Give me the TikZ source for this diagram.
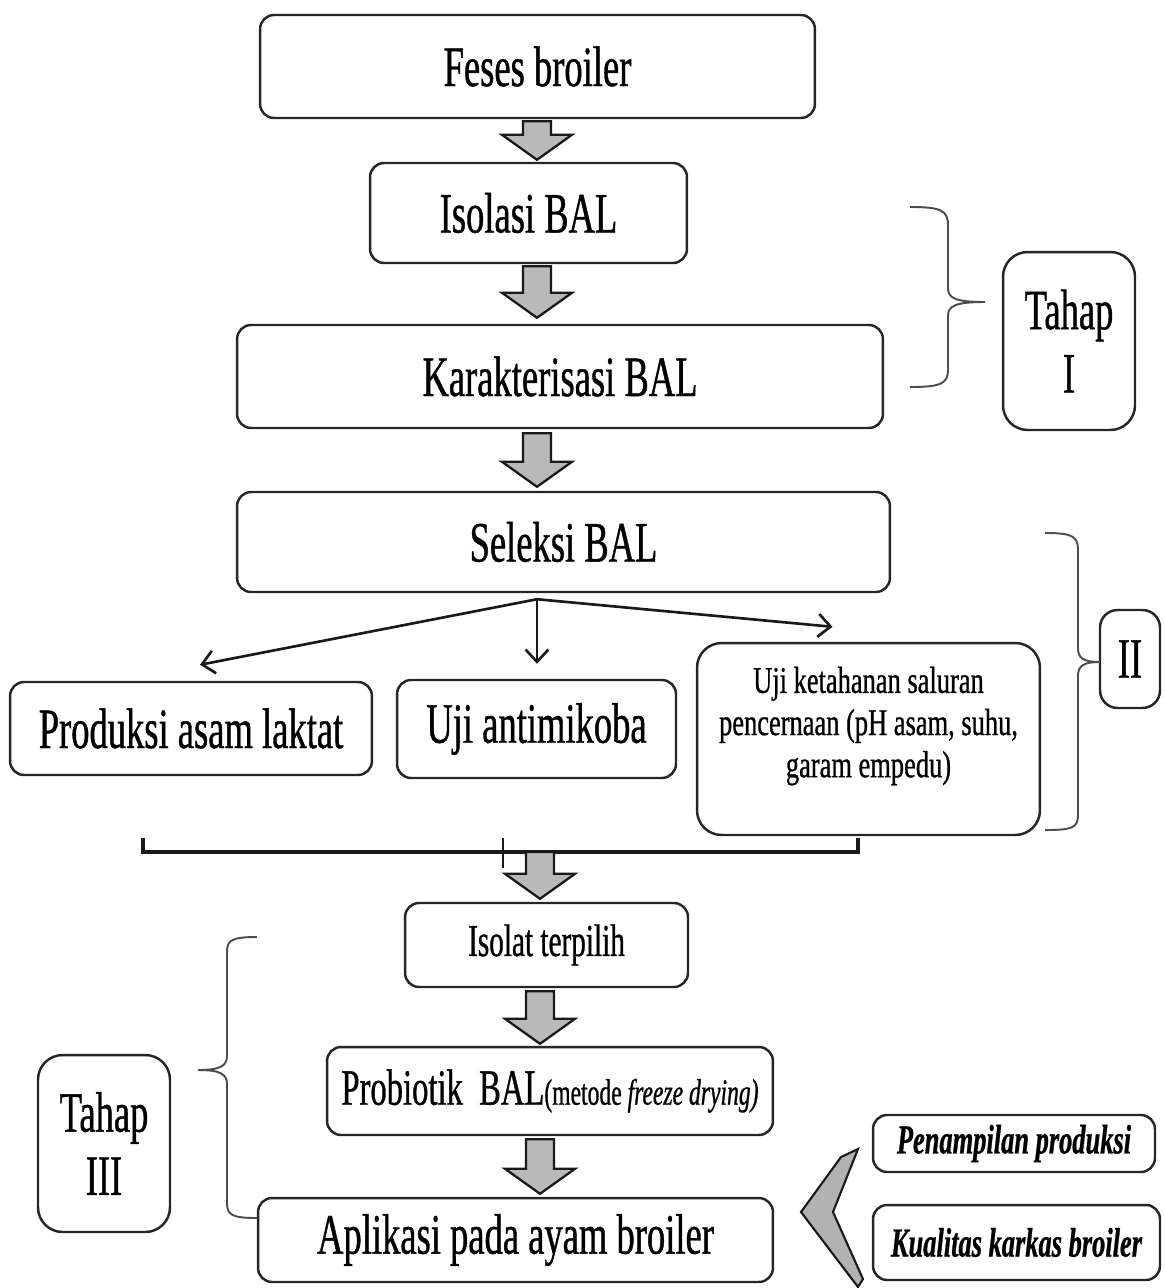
\documentclass[tikz,border=0pt]{standalone}
\usepackage{fontspec}
\setmainfont{Liberation Serif}[FakeStretch=0.64,FakeBold=0.7]
\newfontfamily\widefont{Liberation Serif}[FakeStretch=0.7,FakeBold=0.7]
\usetikzlibrary{calc,arrows.meta}

% block arrow from a start point down to a tip point (same x)
\newcommand\bigarrow[2]{%
  \draw[blockarr] ($(#1)+(-14,0)$) -- ($(#2)+(-14,-25)$) -- ($(#2)+(-35,-25)$)
    -- (#2) -- ($(#2)+(35,-25)$) -- ($(#2)+(14,-25)$) -- ($(#1)+(14,0)$) -- cycle;}

\begin{document}
\begin{tikzpicture}[x=0.02cm,y=-0.02cm,
  box/.style={draw=black!85, line width=1.4pt, rounded corners=8pt, align=center,
    inner sep=2pt, text=black},
  tbox/.style={box, rounded corners=14pt},
  blockarr/.style={draw=black!90, line width=1.3pt, fill=gray!55, line join=miter},
  branch/.style={draw=black!90, line width=1.5pt, -{Straight Barb[length=7pt,width=13pt]}},
  brace/.style={draw=black!70, line width=1.1pt},
  big/.style={font=\fontsize{32.5}{36}\selectfont},
  mid/.style={font=\fontsize{26}{30}\selectfont},
  res/.style={font=\fontsize{23.5}{27}\selectfont\bfseries\itshape}
]
\useasboundingbox (0,0) rectangle (1165,1288);

% main flow
\node[box, big, minimum width=11.1cm, minimum height=2.06cm] (feses) at (537.5,66.5) {Feses broiler};
\node[box, big, minimum width=6.34cm, minimum height=2.0cm] (isolasi) at (528.5,213) {Isolasi BAL};
\node[box, big, minimum width=12.92cm, minimum height=2.06cm] (karak) at (560,376.5) {Karakterisasi BAL};
\node[box, big, minimum width=13.06cm, minimum height=2.0cm] (seleksi) at (563.5,542) {Seleksi BAL};

% selection tests
\node[box, big, minimum width=7.24cm, minimum height=1.86cm] (asam) at (191,728.5) {Produksi asam laktat};
\node[box, big, minimum width=5.58cm, minimum height=1.96cm] (mikoba) at (536.5,729) {Uji antimikoba};
\node[box, rounded corners=14pt, minimum width=6.86cm, minimum height=3.84cm] (tahan) at (868.5,739) {};
\node[align=center, font=\widefont\fontsize{21.5}{24}\selectfont, text=black] (tahantext)
  at ($(tahan.center)+(0,-13)$)
  {Uji ketahanan saluran\\pencernaan (pH asam, suhu,\\garam empedu)};

% selected isolate and application
\node[box, mid, minimum width=5.66cm, minimum height=1.68cm] (isolat) at (546.5,945) {Isolat terpilih};
\node[box, minimum width=8.92cm, minimum height=1.76cm, font=\fontsize{29}{32}\selectfont] (probiotik) at (550,1091)
  {Probiotik\ \ BAL{\fontsize{21}{24}\selectfont(metode \itshape freeze drying)}};
\node[box, big, minimum width=10.3cm, minimum height=1.68cm] (aplikasi) at (515.5,1240) {Aplikasi pada ayam broiler};

% stage labels
\node[tbox, big, minimum width=2.64cm, minimum height=3.56cm] (tahap1) at (1069,341) {Tahap\\I};
\node[tbox, big, rounded corners=10pt, minimum width=1.2cm, minimum height=1.96cm] (tahap2) at (1130,659) {II};
\node[tbox, big, minimum width=2.64cm, minimum height=3.54cm] (tahap3) at (104,1143.5) {Tahap\\III};

% observed results
\node[box, res, minimum width=5.64cm, minimum height=1.14cm] (tampil) at (1014,1143.5) {Penampilan produksi};
\node[box, res, minimum width=5.74cm, minimum height=1.5cm] (karkas) at (1016.5,1242.5) {Kualitas karkas broiler};

% block arrows along the main column
\coordinate (ax) at (537,0);
\coordinate (bx) at (540,0);
\coordinate (a1s) at ($(feses.south -| ax)+(0,2)$);
\coordinate (a1e) at ($(isolasi.north -| ax)+(0,-2)$);
\coordinate (a2s) at ($(isolasi.south -| ax)+(0,2)$);
\coordinate (a2e) at ($(karak.north -| ax)+(0,-6)$);
\coordinate (a3s) at ($(karak.south -| ax)+(0,4)$);
\coordinate (a3e) at ($(seleksi.north -| ax)+(0,-4)$);
\coordinate (a4s) at (540,852);
\coordinate (a4e) at ($(isolat.north -| bx)+(0,-3)$);
\coordinate (a5s) at ($(isolat.south -| bx)+(0,3)$);
\coordinate (a5e) at ($(probiotik.north -| bx)+(0,-2)$);
\coordinate (a6s) at ($(probiotik.south -| bx)+(0,3)$);
\coordinate (a6e) at ($(aplikasi.north -| bx)+(0,-3)$);
\bigarrow{a1s}{a1e}
\bigarrow{a2s}{a2e}
\bigarrow{a3s}{a3e}
\bigarrow{a5s}{a5e}
\bigarrow{a6s}{a6e}

% branching arrows from the selection step
\coordinate (fork) at ($(seleksi.south -| ax)+(0,6)$);
\coordinate (t1) at ($(asam.north)+(9,-16)$);
\coordinate (t2) at ($(mikoba.north -| ax)+(0,-15)$);
\coordinate (t3) at ($(tahan.north)+(-36,-15)$);
\draw[branch] (fork) -- (t1);
\draw[branch] (fork) -- (t2);
\draw[branch] (fork) -- (t3);

% collecting bar under the tests
\coordinate (barL) at (143,838);
\coordinate (barR) at (858,838);
\draw[draw=black!90, line width=2.2pt] (barL) -- (143,852) -- (858,852) -- (barR);
\draw[draw=black!90, line width=1.3pt] (503,838) -- (503,868);
\bigarrow{a4s}{a4e}

% braces grouping the stages
\draw[brace] (910,207) .. controls (940,207) and (948,210) .. (948,225) -- (948,288)
  .. controls (948,298) and (955,302) .. (985,302)
  .. controls (955,302) and (948,306) .. (948,316) -- (948,370)
  .. controls (948,384) and (940,387) .. (910,387);
\draw[brace] (1045,533) .. controls (1072,533) and (1078,536) .. (1078,550) -- (1078,648)
  .. controls (1078,658) and (1083,662) .. (1100,662)
  .. controls (1083,662) and (1078,666) .. (1078,676) -- (1078,815)
  .. controls (1078,828) and (1072,830) .. (1045,830);
\draw[brace] (257,937) .. controls (232,937) and (227,940) .. (227,952) -- (227,1056)
  .. controls (227,1066) and (220,1070) .. (198,1070)
  .. controls (220,1070) and (227,1074) .. (227,1084) -- (227,1203)
  .. controls (227,1215) and (232,1218) .. (257,1218);

% chevron pointing at the application step
\draw[draw=black!90, line width=1.2pt, fill=gray!60, line join=miter]
  (841,1157) -- (801,1212) -- (858,1287) -- (863,1279) -- (833,1212) -- (858,1149) -- cycle;
\end{tikzpicture}
\end{document}
